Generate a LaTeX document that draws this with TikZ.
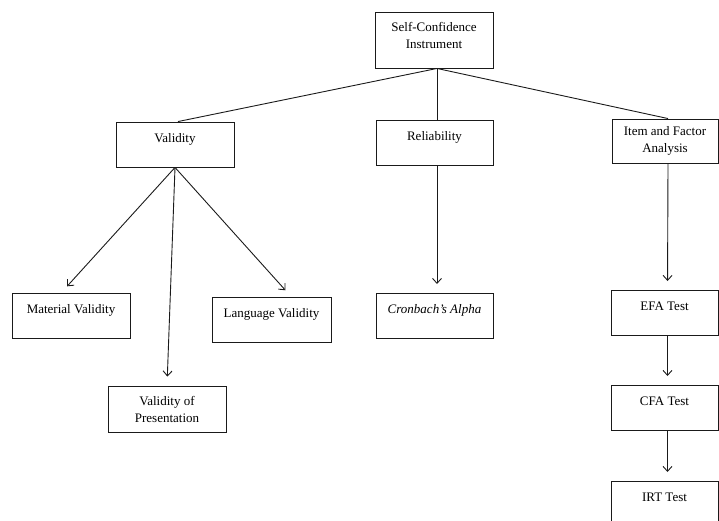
\documentclass[tikz,border=0pt]{standalone}
\usepackage{fontspec}
\setmainfont{Liberation Serif}
\usetikzlibrary{positioning,arrows.meta}
\definecolor{BoxLine}{HTML}{1A1A1A}

\begin{document}
\begin{tikzpicture}[x=1pt,y=1pt,
    box/.style={draw=BoxLine, line width=0.9pt, minimum width=118pt, minimum height=45pt,
      align=center, font=\fontsize{13}{17}\selectfont},
    oneline/.style={text height=20pt, text depth=25pt, inner ysep=0pt},
    link/.style={draw=BoxLine, line width=0.9pt},
    arr/.style={link, -{Straight Barb[length=5pt,width=9pt]}, shorten >=9pt}]
  \useasboundingbox (0,0) rectangle (719,-520);

  % top of the tree
  \node[box, minimum height=56pt] (inst) at (434,-40) {Self-Confidence\\Instrument\rule[-10pt]{0pt}{0pt}};

  % three branches
  \node[box, oneline] (val) at (175,-144.5) {Validity};
  \node[box, oneline, minimum width=117pt] (rel) at (434.5,-142.5) {Reliability};
  \node[box, minimum width=106pt, minimum height=44pt] (item) at (665,-141) {Item and Factor\\Analysis};

  % validity parts
  \node[box, oneline, minimum width=118pt] (mat) at (71,-293) [anchor=north] {Material Validity};
  \node[box, oneline, minimum width=119pt] (lang) at (271.5,-297) [anchor=north] {Language Validity};
  \node[box, minimum height=46pt] (pres) at (167,-409) {Validity of\\Presentation};

  % reliability
  \node[box, oneline, minimum width=117pt] (cron) at (434.5,-293) [anchor=north] {\textit{Cronbach's Alpha}};

  % tests
  \node[box, oneline, minimum width=107pt] (efa) at (664.5,-290) [anchor=north] {EFA Test};
  \node[box, oneline, minimum width=107pt] (cfa) at (664.5,-385) [anchor=north] {CFA Test};
  \node[box, oneline, minimum width=107pt] (irt) at (664.5,-481) [anchor=north] {IRT Test};

  \draw[link] ([xshift=3pt]inst.south) -- ([xshift=3pt]val.north);
  \draw[link] ([xshift=3pt]inst.south) -- ([xshift=2.5pt]rel.north);
  \draw[link] ([xshift=3pt]inst.south) -- ([xshift=3pt]item.north);

  \draw[arr] (val.south) -- ([xshift=-10pt]mat.north);
  \draw[arr] (val.south) -- (pres.north);
  \draw[arr] (val.south) -- ([xshift=20pt]lang.north);
  \draw[arr] ([xshift=2.5pt]rel.south) -- ([xshift=2.5pt]cron.north);
  \draw[arr] ([xshift=3pt]item.south) -- ([xshift=3pt]efa.north);
  \draw[arr] ([xshift=3pt]efa.south) -- ([xshift=3pt]cfa.north);
  \draw[arr] ([xshift=3pt]cfa.south) -- ([xshift=3pt]irt.north);
\end{tikzpicture}
\end{document}
